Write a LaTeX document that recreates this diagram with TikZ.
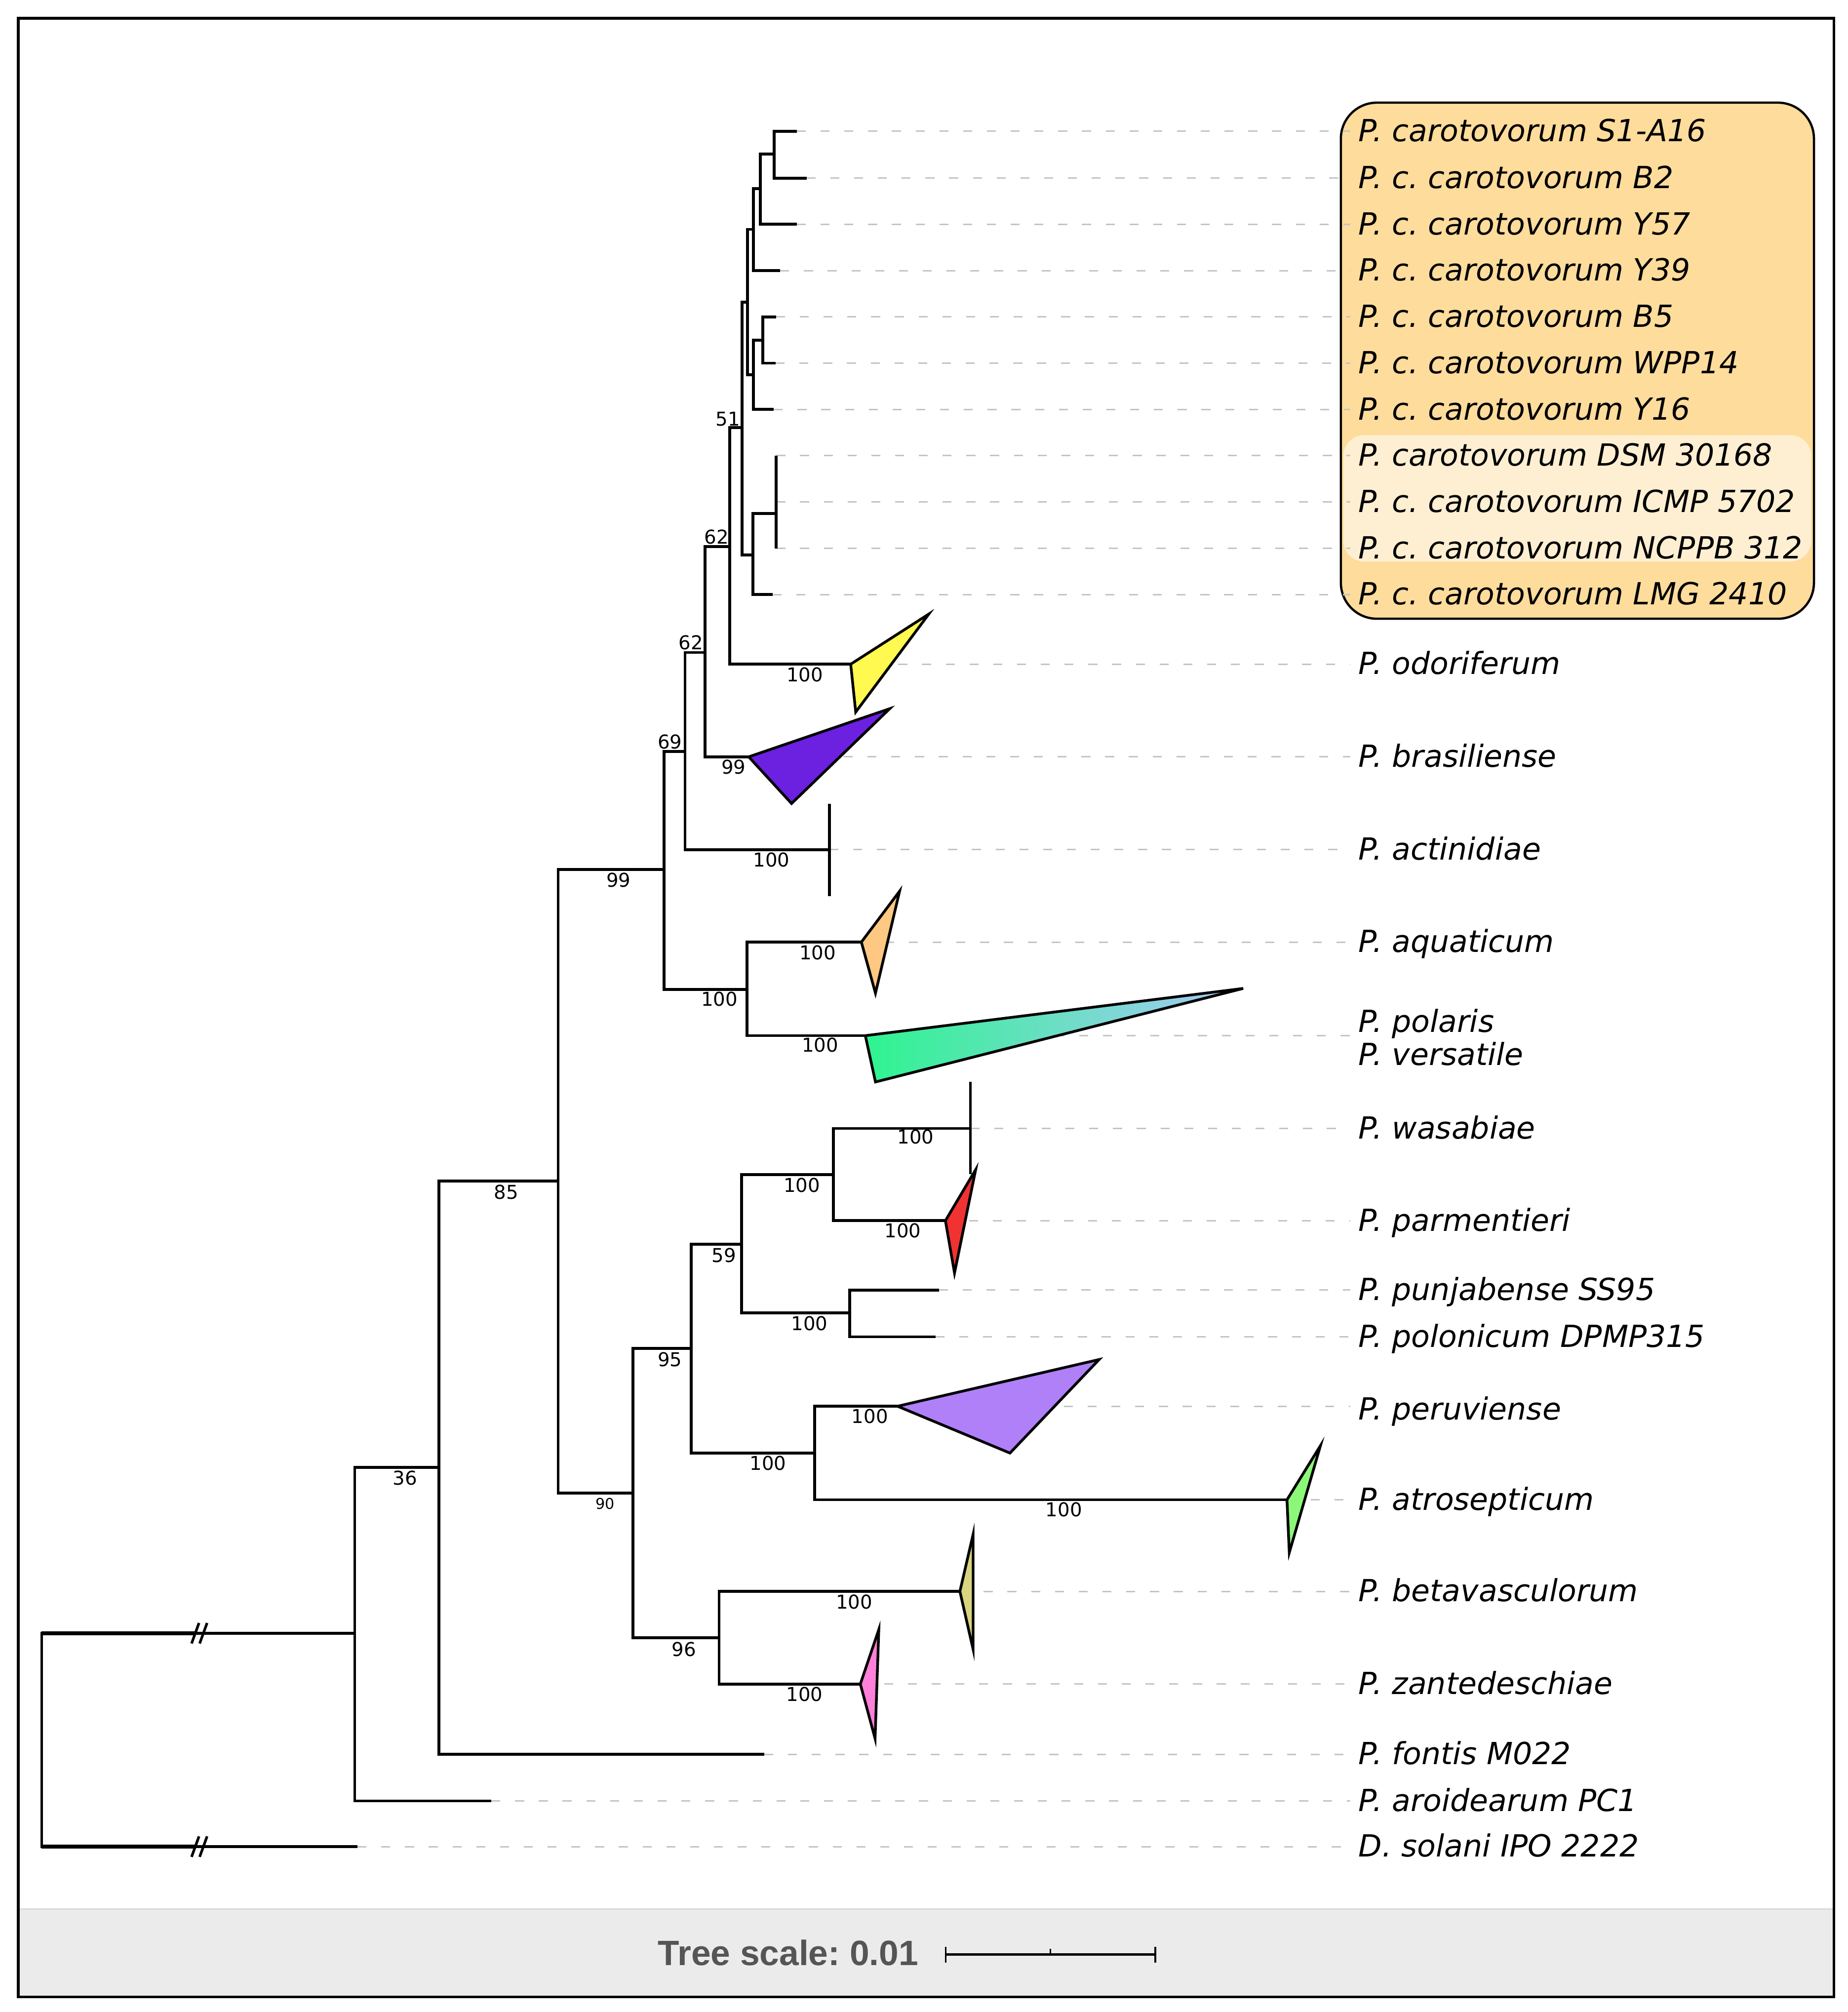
\documentclass[tikz,border=0pt]{standalone}
\usepackage{fontspec}
\newfontfamily\labfont{DejaVu Sans}
\newfontfamily\tsfont{Liberation Sans}
\frenchspacing
\definecolor{boxfill}{HTML}{FDDC9C}
\definecolor{bandfill}{HTML}{FEEFD2}
\definecolor{dashgray}{HTML}{C4C4C4}
\definecolor{footgray}{HTML}{EBEBEB}
\definecolor{footline}{HTML}{DADADA}
\definecolor{scalegray}{HTML}{555555}
\definecolor{codo}{HTML}{FFF950}
\definecolor{cbra}{HTML}{6C20E0}
\definecolor{caqu}{HTML}{FFC882}
\definecolor{cpolL}{HTML}{2EF490}
\definecolor{cpolR}{HTML}{A8C8F8}
\definecolor{cpar}{HTML}{F03232}
\definecolor{cper}{HTML}{B080F8}
\definecolor{catr}{HTML}{8CF878}
\definecolor{cbet}{HTML}{D8D480}
\definecolor{czan}{HTML}{FF80D8}
\tikzset{
  branch/.style={line width=1.65pt, line join=miter},
  clade/.style={line width=1.55pt, line join=miter, draw=black},
  leafdash/.style={draw=dashgray, line width=0.85pt, dash pattern=on 5.2pt off 8.5pt, shorten >=4.5pt},
  leaflab/.style={anchor=base west, inner sep=0pt, font=\labfont\itshape\fontsize{17.55}{20}\selectfont},
  supp/.style={anchor=center, inner sep=0pt, font=\labfont\fontsize{11}{13}\selectfont},
  suppsmall/.style={anchor=center, inner sep=0pt, font=\labfont\fontsize{8.6}{10}\selectfont},
}
\begin{document}
\begin{tikzpicture}[x=0.026cm, y=-0.026cm]
\useasboundingbox (0,0) rectangle (1440,1568);
\fill[white] (0,0) rectangle (1440,1568);
% footer band
\fill[footgray] (14.3,1487.6) rectangle (1429.3,1556.3);
\draw[footline, line width=0.9pt] (14.3,1487.6) -- (1429.3,1487.6);

% highlight box
\fill[boxfill, rounded corners=0.73cm] (1045,80) rectangle (1413.7,482.2);
\fill[bandfill, rounded corners=0.42cm] (1047,339.1) rectangle (1411.5,437.6);
\draw[line width=1.3pt, rounded corners=0.73cm] (1045,80) rectangle (1413.7,482.2);

% ---------- tree coordinates ----------
\coordinate (R) at (32.5,1356);
\coordinate (n1) at (276.5,1272.8);
\coordinate (tsol) at (278.6,1439.1);
\coordinate (n2) at (342,1143.5);
\coordinate (taro) at (382.9,1403.5);
\coordinate (n3) at (435,920.5);
\coordinate (tfon) at (595.6,1367.2);
\coordinate (n4) at (517.4,677.6);
\coordinate (n5) at (493.4,1163.6);
\coordinate (n6) at (533.9,585.5);
\coordinate (n7) at (582.2,771.0);
\coordinate (n8) at (549.5,508.5);
\coordinate (tact) at (646.3,662.2);
\coordinate (n9) at (568.8,426.0);
\coordinate (tbra) at (583.5,589.8);
\coordinate (n10) at (578.3,333.3);
\coordinate (todo) at (663,517.6);
\coordinate (n11) at (582.7,235.4);
\coordinate (n12) at (586.7,432.4);
\coordinate (n13) at (587.1,178.7);
\coordinate (n14) at (587.1,292.0);
\coordinate (n15) at (592.6,147.0);
\coordinate (t4) at (608.0,210.9);
\coordinate (n16) at (603.3,120.2);
\coordinate (t3) at (621.0,174.8);
\coordinate (t1) at (621.0,102.2);
\coordinate (t2) at (628.6,138.8);
\coordinate (n17) at (594.5,265.0);
\coordinate (t7) at (603.0,319.1);
\coordinate (t5) at (604.8,246.9);
\coordinate (t6) at (604.5,283.0);
\coordinate (n18) at (605.0,400.2);
\coordinate (t8) at (605.0,355.1);
\coordinate (t9) at (605.0,391.2);
\coordinate (t10) at (605.0,427.3);
\coordinate (t11) at (602.2,463.3);
\coordinate (taqu) at (671.3,734.2);
\coordinate (tpol) at (674.4,807.1);
\coordinate (n19) at (538.6,1050.7);
\coordinate (n20) at (560.4,1276.4);
\coordinate (n21) at (577.8,969.6);
\coordinate (n22) at (634.8,1132.4);
\coordinate (n23) at (649.5,915.3);
\coordinate (n24) at (662.2,1023.1);
\coordinate (twas) at (756.3,879.4);
\coordinate (tpar) at (736.8,951.3);
\coordinate (tpun) at (731.7,1005.4);
\coordinate (tplo) at (729.0,1041.8);
\coordinate (tper) at (699.5,1095.9);
\coordinate (tatr) at (1003.0,1168.8);
\coordinate (tbet) at (748.1,1240.2);
\coordinate (tzan) at (670.5,1312.4);

% ---------- leaf labels ----------
\node[leaflab] (l1) at (1058.6,110.2) {P. carotovorum S1-A16};
\node[leaflab] (l2) at (1058.6,146.8) {P. c. carotovorum B2};
\node[leaflab] (l3) at (1058.6,182.8) {P. c. carotovorum Y57};
\node[leaflab] (l4) at (1058.6,218.9) {P. c. carotovorum Y39};
\node[leaflab] (l5) at (1058.6,254.9) {P. c. carotovorum B5};
\node[leaflab] (l6) at (1058.6,291.0) {P. c. carotovorum WPP14};
\node[leaflab] (l7) at (1058.6,327.1) {P. c. carotovorum Y16};
\node[leaflab] (l8) at (1058.6,363.1) {P. carotovorum DSM 30168};
\node[leaflab] (l9) at (1058.6,399.2) {P. c. carotovorum ICMP 5702};
\node[leaflab] (l10) at (1058.6,435.3) {P. c. carotovorum NCPPB 312};
\node[leaflab] (l11) at (1058.6,471.3) {P. c. carotovorum LMG 2410};
\node[leaflab] (lodo) at (1058.6,525.6) {P. odoriferum};
\node[leaflab] (lbra) at (1058.6,597.8) {P. brasiliense};
\node[leaflab] (lact) at (1058.6,670.2) {P. actinidiae};
\node[leaflab] (laqu) at (1058.6,742.2) {P. aquaticum};
\node[leaflab] (lpol) at (1058.6,804.5) {P. polaris};
\node[leaflab] (lver) at (1058.6,830.0) {P. versatile};
\node[leaflab] (lwas) at (1058.6,887.4) {P. wasabiae};
\node[leaflab] (lpar) at (1058.6,959.3) {P. parmentieri};
\node[leaflab] (lpun) at (1058.6,1013.4) {P. punjabense SS95};
\node[leaflab] (lplo) at (1058.6,1049.8) {P. polonicum DPMP315};
\node[leaflab] (lper) at (1058.6,1106.5) {P. peruviense};
\node[leaflab] (latr) at (1058.6,1176.8) {P. atrosepticum};
\node[leaflab] (lbet) at (1058.6,1248.2) {P. betavasculorum};
\node[leaflab] (lzan) at (1058.6,1320.4) {P. zantedeschiae};
\node[leaflab] (lfon) at (1058.6,1375.2) {P. fontis M022};
\node[leaflab] (laro) at (1058.6,1411.5) {P. aroidearum PC1};
\node[leaflab] (lsol) at (1058.6,1447.1) {D. solani IPO 2222};

% ---------- dashed leaders ----------
\foreach \t/\l in {t1/l1,t2/l2,t3/l3,t4/l4,t5/l5,t6/l6,t7/l7,t8/l8,t9/l9,t10/l10,t11/l11,
  todo/lodo,tbra/lbra,tact/lact,taqu/laqu,tpol/lpol,twas/lwas,tpar/lpar,tpun/lpun,tplo/lplo,
  tper/lper,tatr/latr,tbet/lbet,tzan/lzan,tfon/lfon,taro/laro,tsol/lsol}
  \draw[leafdash] (\t) -- (\t -| \l.west);

% ---------- branches ----------
\foreach \p/\c in {R/n1,R/tsol,n1/n2,n1/taro,n2/n3,n2/tfon,n3/n4,n3/n5,n4/n6,n4/n7,
  n6/n8,n6/tact,n8/n9,n8/tbra,n9/n10,n9/todo,n10/n11,n10/n12,n11/n13,n11/n14,
  n13/n15,n13/t4,n15/n16,n15/t3,n16/t1,n16/t2,n14/n17,n14/t7,n17/t5,n17/t6,
  n12/n18,n12/t11,n7/taqu,n7/tpol,n5/n19,n5/n20,n19/n21,n19/n22,n21/n23,n21/n24,
  n23/twas,n23/tpar,n24/tpun,n24/tplo,n22/tper,n22/tatr,n20/tbet,n20/tzan}
  \draw[branch] (\p) |- (\c);
% thicker left parts of the broken root branches
\draw[line width=2.2pt] (R |- n1) -- (152.2,1272.8);
\draw[line width=2.2pt] (R |- tsol) -- (152.2,1439.1);
% zero-length collapsed groups
\draw[branch] (t8) -- (t10);
\path (tact) ++(0,-35.7) coordinate (acttop) (tact) ++(0,36.1) coordinate (actbot);
\draw[branch] (acttop) -- (actbot);
\path (twas) ++(0,-36.2) coordinate (wastop) (twas) ++(0,35.5) coordinate (wasbot);
\draw[branch] (wastop) -- (wasbot);
% root breaks
\foreach \cx/\cy in {152.2/1272.8,158.5/1272.8,152.2/1439.1,158.5/1439.1}
  \draw[line width=1.5pt] (\cx-2.9,\cy+8) -- (\cx+2.9,\cy-8);

% ---------- collapsed clades ----------
\filldraw[clade, fill=codo] (todo) -- (723.9,478.5) -- (666.9,554.9) -- cycle;
\filldraw[clade, fill=cbra] (tbra) -- (693.4,552.3) -- (616.9,626.2) -- cycle;
\filldraw[clade, fill=caqu] (taqu) -- (701.1,694.5) -- (682.3,774.0) -- cycle;
\shade[left color=cpolL, right color=cpolR] (tpol) -- (968.9,770.3) -- (682.3,843.2) -- cycle;
\draw[clade] (tpol) -- (968.9,770.3) -- (682.3,843.2) -- cycle;
\filldraw[clade, fill=cpar] (tpar) -- (760.4,911.5) -- (743.9,992.1) -- cycle;
\filldraw[clade, fill=cper] (tper) -- (856.6,1059.5) -- (787.1,1132.4) -- cycle;
\filldraw[clade, fill=catr] (tatr) -- (1029.1,1126.6) -- (1004.8,1210.0) -- cycle;
\filldraw[clade, fill=cbet] (tbet) -- (758.4,1195.7) -- (758.4,1285.4) -- cycle;
\filldraw[clade, fill=czan] (tzan) -- (684.9,1269.9) -- (682.0,1354.9) -- cycle;

% ---------- support values ----------
\node[supp] (s51) at (567.3,326.5) {51};
\node[supp] (s62a) at (558.4,418.6) {62};
\node[supp] (s62b) at (538.4,500.8) {62};
\node[supp] (s69) at (522.1,578.1) {69};
\node[supp] (s99a) at (571.7,597.8) {99};
\node[supp] (sodo) at (627.3,525.7) {100};
\node[supp] (sact) at (601.2,670.0) {100};
\node[supp] (s99b) at (482.1,685.7) {99};
\node[supp] (sn7) at (560.6,778.4) {100};
\node[supp] (saqu) at (637.2,742.3) {100};
\node[supp] (spol) at (639.1,814.5) {100};
\node[supp] (swas) at (713.5,886.0) {100};
\node[supp] (sn23) at (624.9,923.7) {100};
\node[supp] (spar) at (703.5,959.0) {100};
\node[supp] (s59) at (564.1,978.2) {59};
\node[supp] (sn24) at (630.8,1031.5) {100};
\node[supp] (s95) at (522.1,1059.5) {95};
\node[supp] (sn22) at (598.6,1140.1) {100};
\node[supp] (sper) at (677.9,1103.7) {100};
\node[supp] (satr) at (829.1,1176.5) {100};
\node[suppsmall] (s90) at (471.5,1172.0) {90};
\node[supp] (s96) at (533.1,1285.3) {96};
\node[supp] (sbet) at (665.7,1248.3) {100};
\node[supp] (szan) at (627.0,1320.5) {100};
\node[supp] (s36) at (315.7,1152.0) {36};
\node[supp] (s85) at (394.5,929.0) {85};

% ---------- tree scale ----------
\node[anchor=base west, inner sep=0pt, text=scalegray, font=\tsfont\bfseries\fontsize{20.3}{23}\selectfont] (tscale) at (512.5,1531.5) {Tree scale: 0.01};
\coordinate (sb1) at (737,1523.2);
\coordinate (sb2) at (900.4,1523.2);
\coordinate (sbm) at (818.7,1523.2);
\draw[line width=1.5pt] (sb1) -- (sb2);
\draw[line width=0.95pt] (sb1) ++(0,-6) -- ++(0,12.2);
\draw[line width=0.95pt] (sb2) ++(0,-6) -- ++(0,12.2);
\draw[line width=0.75pt] (sbm) -- ++(0,-4.5);

% frame
\draw[line width=1.6pt] (14.3,14.3) rectangle (1429.3,1556.3);
\end{tikzpicture}
\end{document}
